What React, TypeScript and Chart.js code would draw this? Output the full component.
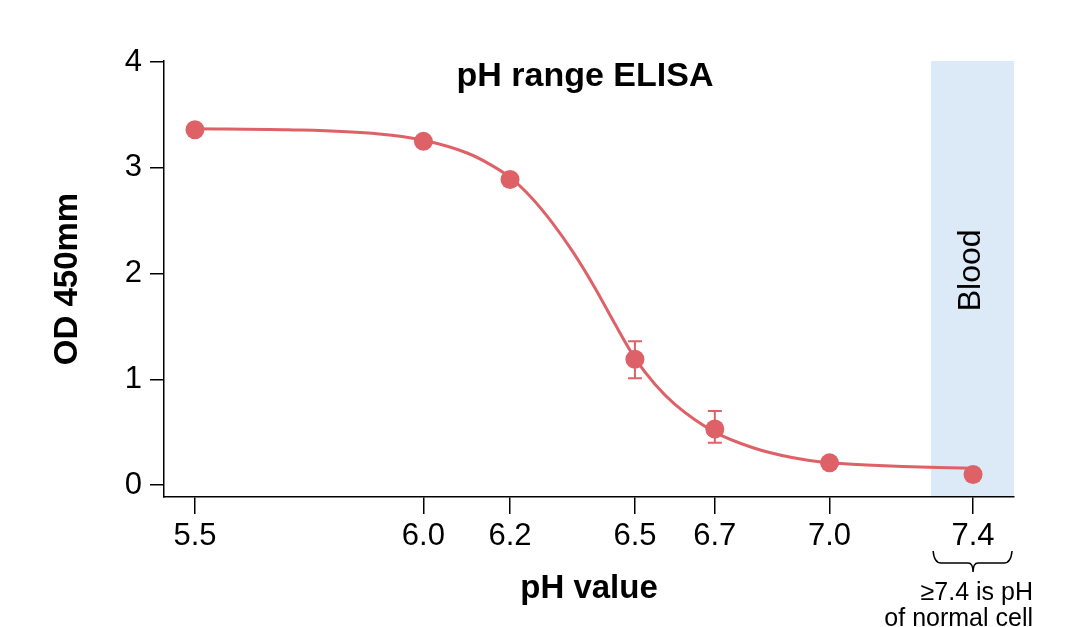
import React, { useEffect, useRef } from 'react';
import { Chart, registerables, LinearScale } from 'chart.js';

Chart.register(...registerables);

// ---- data ----
const X_TICKS = [5.5, 6.0, 6.2, 6.5, 6.7, 7.0, 7.4];
const X_TICK_LABELS = ['5.5', '6.0', '6.2', '6.5', '6.7', '7.0', '7.4'];
const Y_TICKS = [0, 1, 2, 3, 4];
const Y_TICK_LABELS = ['0', '1', '2', '3', '4'];

const PH = [5.5, 6.0, 6.2, 6.5, 6.7, 7.0, 7.4];
const OD = [3.36, 3.25, 2.89, 1.19, 0.53, 0.21, 0.1];

const ERR_PH = [6.5, 6.7];
const ERR_LOW = [1.01, 0.4];
const ERR_HIGH = [1.36, 0.7];

const CURVE_PH = [5.5, 5.7, 5.9, 6.0, 6.1, 6.15, 6.2, 6.25, 6.3, 6.35, 6.4, 6.45, 6.5, 6.55, 6.6, 6.7, 6.8, 6.9, 7.0, 7.1, 7.2, 7.3, 7.4];
const CURVE_OD = [3.37, 3.36, 3.32, 3.26, 3.14, 3.04, 2.91, 2.72, 2.48, 2.2, 1.88, 1.53, 1.2, 0.95, 0.76, 0.5, 0.35, 0.26, 0.21, 0.19, 0.175, 0.165, 0.16];

const BLOOD_RANGE = [7.28, 7.52];

const TITLE = 'pH range ELISA';
const X_TITLE = 'pH value';
const Y_TITLE = 'OD 450mm';
const BLOOD_LABEL = 'Blood';
const NOTE_LINES = ['\u22657.4 is pH', 'of normal cell'];

// ---- style ----
const FONT = '"Liberation Sans", Arial, Helvetica, sans-serif';
const RED = '#de6167';
const BAND = '#dce9f6';

// x axis of the original is slightly compressed toward high pH
const WARP = 0.04;
class WarpScale extends LinearScale {
  static id = 'warp';
  static defaults = LinearScale.defaults;
  warp(v: number) {
    return v - WARP * v * v;
  }
  getPixelForValue(value: number) {
    if (value === null || value === undefined || isNaN(value)) return NaN;
    const a = this.warp(this.min);
    const b = this.warp(this.max);
    return this.getPixelForDecimal((this.warp(value) - a) / (b - a));
  }
  getValueForPixel(pixel: number) {
    const a = this.warp(this.min);
    const b = this.warp(this.max);
    const w = a + this.getDecimalForPixel(pixel) * (b - a);
    return (1 - Math.sqrt(1 - 4 * WARP * w)) / (2 * WARP);
  }
}
Chart.register(WarpScale as any);

const decor = {
  id: 'decor',
  beforeDatasetsDraw(chart: any) {
    const { ctx, chartArea, scales } = chart;
    const x = scales.x;
    const y = scales.y;
    const x0 = x.getPixelForValue(BLOOD_RANGE[0]);
    const x1 = x.getPixelForValue(BLOOD_RANGE[1]);
    ctx.save();
    ctx.fillStyle = BAND;
    ctx.fillRect(x0, chartArea.top, x1 - x0, chartArea.bottom - chartArea.top - 1);
    ctx.translate((x0 + x1) / 2 - 1, y.getPixelForValue(2.03));
    ctx.rotate(-Math.PI / 2);
    ctx.fillStyle = '#000';
    ctx.font = `32px ${FONT}`;
    ctx.textAlign = 'center';
    ctx.textBaseline = 'middle';
    ctx.fillText(BLOOD_LABEL, 0, 0);
    ctx.restore();
  },
  afterDatasetsDraw(chart: any) {
    const { ctx, scales } = chart;
    const x = scales.x;
    const y = scales.y;
    ctx.save();
    ctx.strokeStyle = RED;
    ctx.lineWidth = 2;
    for (let i = 0; i < ERR_PH.length; i++) {
      const px = x.getPixelForValue(ERR_PH[i]);
      const lo = y.getPixelForValue(ERR_LOW[i]);
      const hi = y.getPixelForValue(ERR_HIGH[i]);
      ctx.beginPath();
      ctx.moveTo(px, lo);
      ctx.lineTo(px, hi);
      ctx.moveTo(px - 7, lo);
      ctx.lineTo(px + 7, lo);
      ctx.moveTo(px - 7, hi);
      ctx.lineTo(px + 7, hi);
      ctx.stroke();
    }
    ctx.restore();
  },
  afterDraw(chart: any) {
    const { ctx, chartArea, scales } = chart;
    const x = scales.x;
    ctx.save();
    // title inside the plot
    ctx.fillStyle = '#000';
    ctx.font = `bold 34px ${FONT}`;
    ctx.textAlign = 'center';
    ctx.textBaseline = 'middle';
    ctx.fillText(TITLE, (chartArea.left + chartArea.right) / 2 - 4, chartArea.top + 16);

    // brace under 7.4
    const x0 = x.getPixelForValue(BLOOD_RANGE[0]);
    const x1 = x.getPixelForValue(BLOOD_RANGE[1]);
    const cx = x.getPixelForValue(X_TICKS[X_TICKS.length - 1]);
    const top = chartArea.bottom + 54;
    const mid = top + 12;
    const tip = top + 21;
    ctx.strokeStyle = '#000';
    ctx.lineWidth = 1.5;
    ctx.beginPath();
    ctx.moveTo(x0 + 2, top);
    ctx.quadraticCurveTo(x0 + 3, mid, x0 + 10, mid);
    ctx.lineTo(cx - 5, mid);
    ctx.quadraticCurveTo(cx, mid, cx, tip);
    ctx.quadraticCurveTo(cx, mid, cx + 5, mid);
    ctx.lineTo(x1 - 10, mid);
    ctx.quadraticCurveTo(x1 - 3, mid, x1 - 2, top);
    ctx.stroke();

    // note
    ctx.font = `25px ${FONT}`;
    ctx.textAlign = 'right';
    ctx.textBaseline = 'alphabetic';
    ctx.fillText(NOTE_LINES[0], x1 + 19, chartArea.bottom + 103);
    ctx.fillText(NOTE_LINES[1], x1 + 19, chartArea.bottom + 129);
    ctx.restore();
  },
};

export default function App() {
  const ref = useRef<HTMLCanvasElement | null>(null);

  useEffect(() => {
    if (!ref.current) return;
    const chart = new Chart(ref.current, {
      type: 'line',
      data: {
        datasets: [
          {
            label: 'measured',
            data: PH.map((p, i) => ({ x: p, y: OD[i] })),
            showLine: false,
            pointRadius: 9.5,
            pointHoverRadius: 9.5,
            pointBorderWidth: 0,
            pointBackgroundColor: RED,
            pointBorderColor: RED,
            borderColor: RED,
            backgroundColor: RED,
          },
          {
            label: 'fit',
            data: CURVE_PH.map((p, i) => ({ x: p, y: CURVE_OD[i] })),
            borderColor: RED,
            borderWidth: 3,
            pointRadius: 0,
            fill: false,
            cubicInterpolationMode: 'monotone',
          },
        ],
      },
      options: {
        animation: false,
        responsive: true,
        maintainAspectRatio: false,
        layout: { padding: { left: 0, right: 54, top: 61, bottom: 0 } },
        plugins: {
          legend: { display: false },
          tooltip: { enabled: false },
          title: { display: false },
        },
        scales: {
          x: {
            type: 'warp' as any,
            position: 'bottom',
            min: 5.435,
            max: 7.52,
            afterBuildTicks: (s: any) => {
              s.ticks = X_TICKS.map((v) => ({ value: v }));
            },
            afterFit: (s: any) => {
              s.height = 130;
            },
            grid: {
              drawOnChartArea: false,
              drawTicks: true,
              tickLength: 17,
              color: '#000',
              tickColor: '#000',
              lineWidth: 1.5,
            },
            border: { display: true, color: '#000', width: 1.5 },
            ticks: {
              autoSkip: false,
              maxRotation: 0,
              color: '#000',
              padding: 4,
              font: { family: FONT, size: 31 },
              callback: (_v: any, i: number) => X_TICK_LABELS[i],
            },
            title: {
              display: true,
              text: X_TITLE,
              color: '#000',
              font: { family: FONT, size: 33, weight: 'bold' },
              padding: { top: 0, bottom: 18 },
            },
          },
          y: {
            type: 'linear',
            min: -0.113,
            max: 4.01,
            afterBuildTicks: (s: any) => {
              s.ticks = Y_TICKS.map((v) => ({ value: v }));
            },
            afterFit: (s: any) => {
              s.width = 164;
            },
            grid: {
              drawOnChartArea: false,
              drawTicks: true,
              tickLength: 14,
              color: '#000',
              tickColor: '#000',
              lineWidth: 1.5,
            },
            border: { display: true, color: '#000', width: 1.5 },
            ticks: {
              color: '#000',
              padding: 8,
              font: { family: FONT, size: 31 },
              callback: (_v: any, i: number) => Y_TICK_LABELS[i],
            },
            title: {
              display: true,
              text: Y_TITLE,
              color: '#000',
              font: { family: FONT, size: 33, weight: 'bold' },
              padding: { top: 48, bottom: 0 },
            },
          },
        },
      } as any,
      plugins: [decor],
    });
    return () => chart.destroy();
  }, []);

  return (
    <div style={{ position: 'absolute', left: 0, top: 0, width: 1068, height: 627 }}>
      <canvas ref={ref} />
    </div>
  );
}
